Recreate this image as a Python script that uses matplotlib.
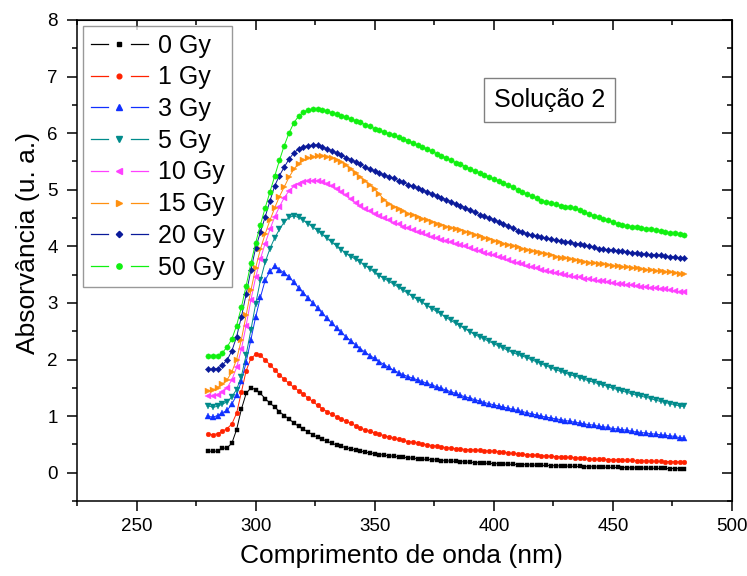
import numpy as np
import matplotlib
matplotlib.use("Agg")
import matplotlib.pyplot as plt
from matplotlib.lines import Line2D
from matplotlib.legend_handler import HandlerBase
from matplotlib.ticker import MultipleLocator

plt.rcParams['font.family'] = ['Liberation Sans', 'DejaVu Sans']

# ---------------- data ----------------
wavelength = np.arange(280, 481, 2)  # nm

abs_0gy = [
    0.38, 0.38, 0.38, 0.43, 0.44, 0.52, 0.76, 1.12, 1.40, 1.50,
    1.47, 1.40, 1.31, 1.23, 1.16, 1.08, 1.01, 0.95, 0.88, 0.82,
    0.77, 0.72, 0.67, 0.625, 0.59, 0.555, 0.52, 0.49, 0.465, 0.44,
    0.42, 0.40, 0.38, 0.365, 0.35, 0.335, 0.32, 0.31, 0.30, 0.29,
    0.28, 0.27, 0.265, 0.255, 0.25, 0.24, 0.235, 0.23, 0.225, 0.215,
    0.21, 0.205, 0.20, 0.195, 0.19, 0.185, 0.18, 0.175, 0.17, 0.165,
    0.16, 0.158, 0.155, 0.15, 0.148, 0.145, 0.142, 0.14, 0.135, 0.132,
    0.13, 0.128, 0.125, 0.122, 0.12, 0.118, 0.115, 0.112, 0.11, 0.108,
    0.105, 0.103, 0.10, 0.098, 0.096, 0.094, 0.092, 0.09, 0.088, 0.086,
    0.085, 0.083, 0.082, 0.08, 0.078, 0.077, 0.075, 0.074, 0.072, 0.071,
    0.07]

abs_1gy = [
    0.68, 0.67, 0.69, 0.73, 0.78, 0.86, 1.05, 1.42, 1.80, 2.02,
    2.09, 2.08, 1.99, 1.91, 1.82, 1.73, 1.65, 1.58, 1.51, 1.45,
    1.39, 1.32, 1.26, 1.19, 1.13, 1.08, 1.03, 0.99, 0.95, 0.91,
    0.87, 0.83, 0.79, 0.755, 0.73, 0.705, 0.68, 0.655, 0.63, 0.61,
    0.59, 0.57, 0.55, 0.54, 0.525, 0.51, 0.495, 0.48, 0.47, 0.455,
    0.445, 0.435, 0.425, 0.42, 0.41, 0.405, 0.40, 0.395, 0.39, 0.385,
    0.38, 0.37, 0.36, 0.35, 0.34, 0.335, 0.325, 0.32, 0.315, 0.31,
    0.30, 0.295, 0.29, 0.285, 0.28, 0.275, 0.27, 0.265, 0.26, 0.252,
    0.245, 0.24, 0.237, 0.234, 0.231, 0.228, 0.225, 0.222, 0.22, 0.217,
    0.214, 0.211, 0.208, 0.205, 0.202, 0.20, 0.197, 0.195, 0.192, 0.19,
    0.187]

abs_3gy = [
    1.00, 0.98, 1.01, 1.06, 1.10, 1.21, 1.37, 1.62, 1.95, 2.35,
    2.75, 3.10, 3.40, 3.56, 3.65, 3.59, 3.53, 3.46, 3.37, 3.27,
    3.18, 3.09, 3.00, 2.91, 2.82, 2.73, 2.64, 2.56, 2.48, 2.40,
    2.33, 2.26, 2.19, 2.13, 2.07, 2.02, 1.96, 1.91, 1.86, 1.81,
    1.77, 1.73, 1.70, 1.67, 1.64, 1.61, 1.58, 1.55, 1.52, 1.49,
    1.46, 1.43, 1.40, 1.37, 1.34, 1.32, 1.29, 1.27, 1.24, 1.22,
    1.20, 1.18, 1.16, 1.14, 1.12, 1.10, 1.08, 1.06, 1.04, 1.02,
    1.00, 0.98, 0.97, 0.95, 0.94, 0.92, 0.91, 0.89, 0.88, 0.86,
    0.85, 0.84, 0.82, 0.81, 0.80, 0.78, 0.77, 0.76, 0.75, 0.73,
    0.72, 0.71, 0.70, 0.69, 0.68, 0.67, 0.66, 0.65, 0.64, 0.62,
    0.61]

abs_5gy = [
    1.18, 1.16, 1.17, 1.21, 1.25, 1.34, 1.47, 1.70, 2.08, 2.52,
    2.98, 3.40, 3.72, 3.96, 4.15, 4.30, 4.43, 4.51, 4.54, 4.51,
    4.46, 4.40, 4.34, 4.28, 4.21, 4.14, 4.07, 4.01, 3.94, 3.87,
    3.82, 3.77, 3.72, 3.66, 3.60, 3.54, 3.48, 3.43, 3.38, 3.33,
    3.28, 3.22, 3.17, 3.11, 3.06, 3.01, 2.95, 2.90, 2.85, 2.80,
    2.74, 2.69, 2.64, 2.59, 2.54, 2.49, 2.44, 2.40, 2.36, 2.32,
    2.28, 2.24, 2.20, 2.16, 2.12, 2.09, 2.06, 2.03, 1.99, 1.96,
    1.92, 1.89, 1.85, 1.82, 1.79, 1.76, 1.73, 1.71, 1.68, 1.65,
    1.62, 1.60, 1.57, 1.55, 1.52, 1.49, 1.47, 1.44, 1.42, 1.39,
    1.37, 1.35, 1.33, 1.31, 1.28, 1.26, 1.24, 1.22, 1.20, 1.18,
    1.17]

abs_10gy = [
    1.36, 1.35, 1.37, 1.42, 1.50, 1.64, 1.86, 2.18, 2.60, 3.05,
    3.45, 3.78, 4.05, 4.30, 4.52, 4.70, 4.86, 4.98, 5.06, 5.11,
    5.14, 5.15, 5.16, 5.16, 5.14, 5.11, 5.07, 5.02, 4.96, 4.90,
    4.83, 4.77, 4.71, 4.66, 4.62, 4.58, 4.54, 4.50, 4.46, 4.42,
    4.39, 4.35, 4.32, 4.29, 4.26, 4.23, 4.20, 4.17, 4.14, 4.12,
    4.10, 4.07, 4.05, 4.02, 4.00, 3.97, 3.94, 3.92, 3.89, 3.86,
    3.84, 3.81, 3.79, 3.76, 3.73, 3.71, 3.68, 3.66, 3.63, 3.61,
    3.59, 3.57, 3.55, 3.53, 3.51, 3.49, 3.47, 3.46, 3.45, 3.43,
    3.42, 3.40, 3.39, 3.38, 3.37, 3.35, 3.34, 3.33, 3.32, 3.31,
    3.30, 3.29, 3.28, 3.27, 3.26, 3.25, 3.24, 3.23, 3.21, 3.20,
    3.19]

abs_15gy = [
    1.44, 1.46, 1.50, 1.56, 1.64, 1.78, 2.00, 2.35, 2.78, 3.22,
    3.62, 3.95, 4.22, 4.46, 4.68, 4.88, 5.05, 5.22, 5.36, 5.46,
    5.52, 5.56, 5.58, 5.59, 5.59, 5.58, 5.56, 5.53, 5.49, 5.43,
    5.36, 5.29, 5.22, 5.15, 5.08, 5.01, 4.92, 4.82, 4.75, 4.70,
    4.66, 4.62, 4.58, 4.55, 4.52, 4.49, 4.46, 4.43, 4.40, 4.37,
    4.35, 4.33, 4.31, 4.29, 4.26, 4.23, 4.20, 4.18, 4.15, 4.13,
    4.10, 4.08, 4.05, 4.03, 4.01, 3.98, 3.96, 3.94, 3.92, 3.90,
    3.88, 3.86, 3.84, 3.82, 3.80, 3.79, 3.77, 3.76, 3.74, 3.73,
    3.71, 3.70, 3.69, 3.68, 3.67, 3.66, 3.65, 3.64, 3.63, 3.62,
    3.61, 3.60, 3.59, 3.58, 3.57, 3.56, 3.55, 3.54, 3.53, 3.52,
    3.52]

abs_20gy = [
    1.83, 1.83, 1.84, 1.90, 1.99, 2.15, 2.40, 2.75, 3.15, 3.58,
    3.97, 4.25, 4.52, 4.80, 5.07, 5.25, 5.40, 5.54, 5.65, 5.72,
    5.76, 5.78, 5.79, 5.79, 5.76, 5.72, 5.69, 5.65, 5.61, 5.57,
    5.53, 5.49, 5.45, 5.40, 5.36, 5.33, 5.29, 5.26, 5.23, 5.20,
    5.16, 5.13, 5.09, 5.06, 5.03, 5.00, 4.96, 4.93, 4.89, 4.86,
    4.82, 4.79, 4.75, 4.72, 4.68, 4.64, 4.60, 4.56, 4.53, 4.50,
    4.47, 4.43, 4.40, 4.36, 4.32, 4.28, 4.25, 4.22, 4.20, 4.18,
    4.16, 4.14, 4.13, 4.11, 4.10, 4.08, 4.07, 4.05, 4.04, 4.02,
    4.00, 3.98, 3.96, 3.95, 3.94, 3.93, 3.92, 3.91, 3.90, 3.89,
    3.88, 3.87, 3.86, 3.85, 3.85, 3.84, 3.83, 3.82, 3.81, 3.80,
    3.80]

abs_50gy = [
    2.06, 2.06, 2.06, 2.12, 2.22, 2.36, 2.60, 2.92, 3.30, 3.70,
    4.06, 4.38, 4.68, 4.96, 5.24, 5.52, 5.78, 6.00, 6.18, 6.30,
    6.37, 6.41, 6.42, 6.42, 6.41, 6.39, 6.36, 6.34, 6.31, 6.28,
    6.25, 6.22, 6.19, 6.15, 6.12, 6.08, 6.05, 6.02, 5.99, 5.96,
    5.93, 5.90, 5.87, 5.83, 5.79, 5.76, 5.72, 5.68, 5.64, 5.60,
    5.56, 5.52, 5.48, 5.45, 5.41, 5.37, 5.33, 5.30, 5.26, 5.23,
    5.19, 5.16, 5.12, 5.09, 5.05, 5.00, 4.96, 4.92, 4.89, 4.85,
    4.81, 4.78, 4.76, 4.74, 4.72, 4.70, 4.69, 4.67, 4.64, 4.61,
    4.57, 4.54, 4.51, 4.48, 4.46, 4.43, 4.40, 4.38, 4.36, 4.35,
    4.34, 4.33, 4.31, 4.30, 4.29, 4.27, 4.26, 4.24, 4.23, 4.21,
    4.20]

series_labels = ['0 Gy', '1 Gy', '3 Gy', '5 Gy', '10 Gy', '15 Gy', '20 Gy', '50 Gy']
series_values = [abs_0gy, abs_1gy, abs_3gy, abs_5gy, abs_10gy, abs_15gy, abs_20gy, abs_50gy]

x_ticks = [250, 300, 350, 400, 450, 500]
y_ticks = [0, 1, 2, 3, 4, 5, 6, 7, 8]

# ---------------- style ----------------
colors = ['#000000', '#FF2200', '#1030FF', '#008B8B', '#FF40FF', '#FF9010', '#0A1A9A', '#10F010']
markers = ['s', 'o', '^', 'v', '<', '>', 'D', 'o']
msizes = [3.2, 3.4, 4.0, 4.0, 4.0, 4.0, 3.2, 3.8]

fig = plt.figure(figsize=(7.47, 5.76), dpi=100)
ax = fig.add_axes([77 / 747, 1 - 501 / 576, 655 / 747, 481 / 576])

handles = []
for vals, lab, c, m, ms in zip(series_values, series_labels, colors, markers, msizes):
    ln, = ax.plot(wavelength, vals, color=c, lw=0.7, marker=m, ms=ms,
                  mec=c, mfc=c, mew=0.3, label=lab)
    handles.append(ln)

ax.set_xlim(225, 500)
ax.set_ylim(-0.5, 8)
ax.set_xticks(x_ticks)
ax.set_yticks(y_ticks)
ax.xaxis.set_minor_locator(MultipleLocator(25))
ax.yaxis.set_minor_locator(MultipleLocator(0.5))

for s in ax.spines.values():
    s.set_linewidth(1.1)

ax.tick_params(axis='both', which='major', direction='out', length=7, width=1.1,
               labelsize=13.5, top=False, right=False)
ax.tick_params(axis='both', which='minor', direction='out', length=3.8, width=1.1,
               top=False, right=False)
ax.tick_params(axis='x', which='major', pad=5)
ax.tick_params(axis='y', which='major', pad=7)

# inward ticks on right and top (Origin style)
axr = ax.secondary_yaxis('right')
axr.set_yticks(y_ticks)
axr.yaxis.set_minor_locator(MultipleLocator(0.5))
axr.tick_params(which='major', direction='in', length=7, width=1.1, labelright=False)
axr.tick_params(which='minor', direction='in', length=3.8, width=1.1)
axt = ax.secondary_xaxis('top')
axt.set_xticks(x_ticks)
axt.xaxis.set_minor_locator(MultipleLocator(25))
axt.tick_params(which='major', direction='in', length=7, width=1.1, labeltop=False)
axt.tick_params(which='minor', direction='in', length=3.8, width=1.1)

ax.set_xlabel('Comprimento de onda (nm)', fontsize=19)
ax.set_ylabel('Absorvância (u. a.)', fontsize=19)
ax.xaxis.label.set_va('center')
ax.xaxis.set_label_coords((401 - 77) / 655, (501 - 556) / 481)
ax.yaxis.label.set_va('center')
ax.yaxis.set_label_coords((28 - 77) / 655, (501 - 243) / 481)


class GapHandler(HandlerBase):
    def create_artists(self, legend, orig, xdescent, ydescent, width, height,
                       fontsize, trans):
        y = height / 2 - ydescent
        x0 = -xdescent
        c = orig.get_color()
        l1 = Line2D([x0, x0 + width * 0.30], [y, y], color=c, lw=0.9)
        l2 = Line2D([x0 + width * 0.70, x0 + width], [y, y], color=c, lw=0.9)
        mk = Line2D([x0 + width * 0.5], [y], ls='none', marker=orig.get_marker(),
                    ms=orig.get_markersize(), color=c, mec=c, mfc=c)
        for a in (l1, l2, mk):
            a.set_transform(trans)
        return [l1, l2, mk]


leg = ax.legend(handles=handles, labels=series_labels,
                handler_map={h: GapHandler() for h in handles},
                loc='upper left', bbox_to_anchor=((83 - 77) / 655, (501 - 26) / 481),
                borderaxespad=0, fontsize=18, frameon=True, fancybox=False,
                handlelength=2.3, handletextpad=0.4, labelspacing=0.31,
                borderpad=0.3)
leg.get_frame().set_edgecolor('#808080')
leg.get_frame().set_linewidth(1.0)

ax.text((549.5 - 77) / 655, (501 - 99.5) / 481, 'Solução 2', transform=ax.transAxes,
        ha='center', va='center', fontsize=18,
        bbox=dict(boxstyle='square,pad=0.4', fc='white', ec='#808080', lw=1.0))

fig.savefig('out.png', dpi=100)
